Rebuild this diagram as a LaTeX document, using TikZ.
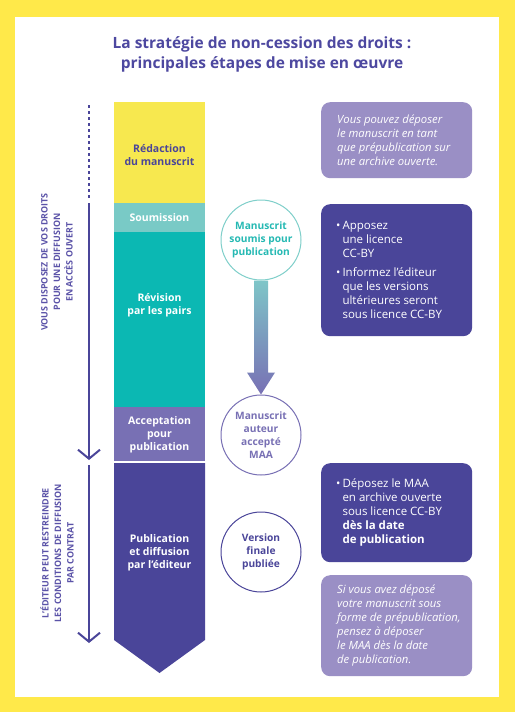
\documentclass[tikz,border=0pt]{standalone}
\usepackage{fontspec}
\setmainfont{Open Sans}
\usetikzlibrary{arrows.meta,calc}
\definecolor{frameyel}{HTML}{FFE94A}
\definecolor{blockyel}{HTML}{F7E84F}
\definecolor{soumcol}{HTML}{79CAC6}
\definecolor{tealcol}{HTML}{0BB8B3}
\definecolor{acccol}{HTML}{7870B4}
\definecolor{darkcol}{HTML}{4A4599}
\definecolor{lightcol}{HTML}{9A8FC5}
\definecolor{titlecol}{HTML}{4D48A0}
\definecolor{sidecol}{HTML}{5B53A8}
\definecolor{c1line}{HTML}{7FCFCA}
\definecolor{c1text}{HTML}{25B9B3}
\tikzset{
  titlestyle/.style={align=center,text=titlecol,font=\bfseries\fontsize{15.5}{20}\selectfont},
  sidetext/.style={rotate=90,align=center,text=sidecol,font=\bfseries\fontsize{8.9}{12.5}\selectfont},
  vline/.style={draw=darkcol,line width=2pt},
  dotline/.style={draw=darkcol,line width=2.2pt,dash pattern=on 3pt off 3pt},
  chev/.style={-{Straight Barb[length=9pt,width=22pt,line width=2pt]}},
  blocktext/.style={align=center,text=white,font=\bfseries\fontsize{10.5}{13}\selectfont},
  circ/.style={circle,minimum size=80pt,inner sep=0pt,align=center,line width=1pt,fill=white,font=\bfseries\fontsize{10.2}{13}\selectfont},
  boxbase/.style={rounded corners=9pt,minimum width=151pt,anchor=north west,inner sep=0pt},
  lbox/.style={boxbase,fill=lightcol},
  dbox/.style={boxbase,fill=darkcol},
  itext/.style={align=left,text=white,anchor=west,inner sep=0pt,font=\itshape\fontsize{11.3}{14}\selectfont},
  btext/.style={align=left,text=white,anchor=west,inner sep=0pt,font=\fontsize{11.5}{14}\selectfont},
}
\begin{document}
\begin{tikzpicture}[x=1pt,y=-1pt]
\useasboundingbox (0,0) rectangle (515,712);
\fill[frameyel] (0,0) rectangle (515,712);
\fill[white] (15,17) rectangle (499,697);

% title
\node[titlestyle] (title) at (262,54) {La stratégie de non-cession des droits :\\principales étapes de mise en œuvre};

% main column
\fill[blockyel] (114,102) rectangle (205,203);
\fill[soumcol] (114,203) rectangle (205,232);
\fill[tealcol] (114,232) rectangle (205,407);
\fill[acccol] (114,407) rectangle (205,461);
\fill[darkcol] (114,463) -- (205,463) -- (205,640) -- (159.5,673) -- (114,640) -- cycle;

\node[blocktext,text=darkcol] (redac) at (159.5,155) {Rédaction\\du manuscrit};
\node[blocktext] (soum) at (159.5,218) {Soumission};
\node[blocktext] (revis) at (159.5,305) {Révision\\par les pairs};
\node[blocktext] (accept) at (159.5,435) {Acceptation\\pour\\publication};
\node[blocktext] (publi) at (159.5,553) {Publication\\et diffusion\\par l’éditeur};

% left lines
\coordinate (d1) at (89,105);
\coordinate (d2) at (89,199);
\coordinate (a1s) at (89,203);
\coordinate (a1e) at (89,460);
\coordinate (a2s) at (89,465);
\coordinate (a2e) at (89,643);
\draw[dotline] (d1) -- (d2);
\draw[vline,chev] (a1s) -- (a1e);
\draw[vline,chev] (a2s) -- (a2e);

\node[sidetext] (side1) at (57,262) {VOUS DISPOSEZ DE VOS DROITS\\POUR UNE DIFFUSION\\EN ACCÈS OUVERT};
\node[sidetext] (side2) at (57,553) {L’ÉDITEUR PEUT RESTREINDRE\\LES CONDITIONS DE DIFFUSION\\PAR CONTRAT};

% circles
\node[circ,draw=c1line,text=c1text] (c1) at (261,240) {Manuscrit\\soumis pour\\publication};
\node[circ,draw=acccol,text=acccol] (c2) at (261,435) {Manuscrit\\auteur\\accepté\\MAA};
\node[circ,draw=darkcol,text=darkcol] (c3) at (261,552) {Version\\finale\\publiée};

% gradient arrow
\coordinate (ah) at ($(c2.north)+(0,-22)$);
\shade[top color=c1line!90!acccol,bottom color=acccol]
  ($(c1.south)+(-7,0)$) -- ($(c1.south)+(7,0)$) -- ($(ah)+(7,0)$) -- ($(ah)+(14,0)$)
  -- (c2.north) -- ($(ah)+(-14,0)$) -- ($(ah)+(-7,0)$) -- cycle;

% right boxes
\node[lbox,minimum height=76pt] (b1) at (321,102) {};
\node[itext] (t1) at ($(b1.west)+(16,0)$) {Vous pouvez déposer\\le manuscrit en tant\\que prépublication sur\\une archive ouverte.};

\node[dbox,minimum height=132pt] (b2) at (321,204) {};
\node[btext] (t2) at ($(b2.west)+(15,1)$) {\begin{tabular}{@{}l@{\hspace{2pt}}l@{}}
•&Apposez\\
&une licence\\
&CC-BY\\[5pt]
•&Informez l’éditeur\\
&que les versions\\
&ultérieures seront\\
&sous licence CC-BY
\end{tabular}};

\node[dbox,minimum height=99pt] (b3) at (321,463) {};
\node[btext] (t3) at ($(b3.west)+(15,0)$) {\begin{tabular}{@{}l@{\hspace{2pt}}l@{}}
•&Déposez le MAA\\
&en archive ouverte\\
&sous licence CC-BY\\
&\textbf{dès la date}\\
&\textbf{de publication}
\end{tabular}};

\node[lbox,minimum height=101pt] (b4) at (321,575) {};
\node[itext] (t4) at ($(b4.west)+(16,0)$) {Si vous avez déposé\\votre manuscrit sous\\forme de prépublication,\\pensez à déposer\\le MAA dès la date\\de publication.};
\end{tikzpicture}
\end{document}
